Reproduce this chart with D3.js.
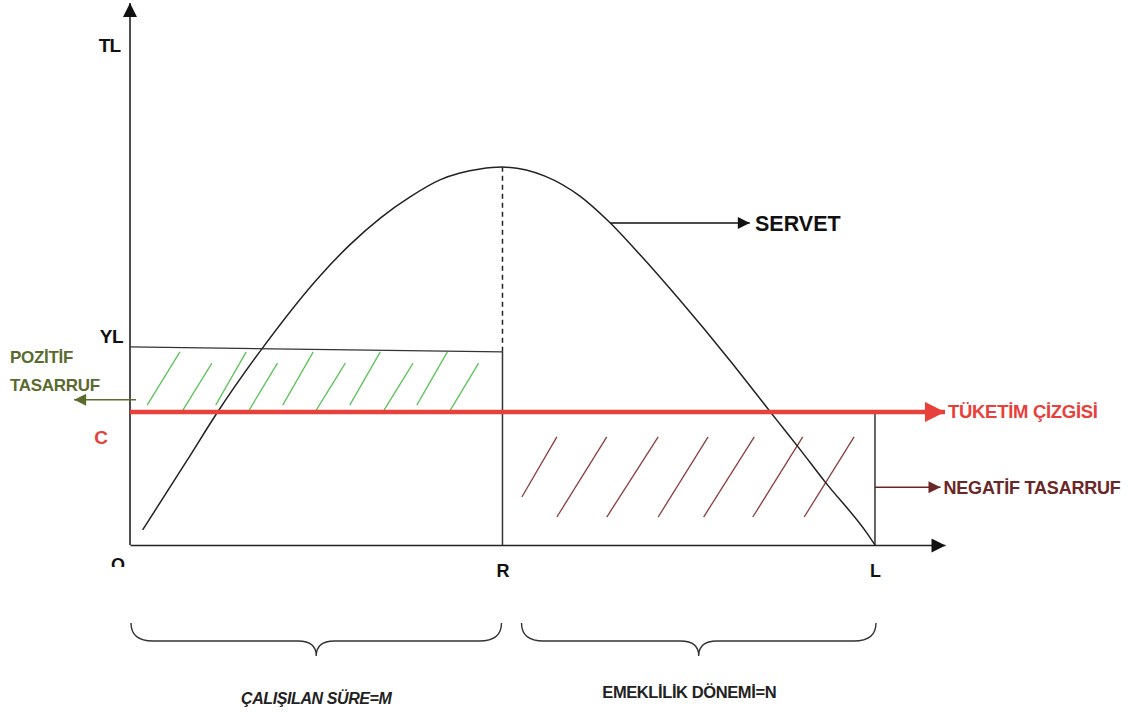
<!DOCTYPE html>
<html>
<head>
<meta charset="utf-8">
<script src="https://cdn.jsdelivr.net/npm/d3@7/dist/d3.min.js"></script>
<style>
  body{margin:0;background:#fff;}
  text{font-family:"Liberation Sans",Arial,sans-serif;font-weight:bold;}
</style>
</head>
<body>
<div id="chart"></div>
<script>
// servet egrisi (x: 0=O, 50=R, 100=L ; y: 100 = tepe)
var servetX=[1.7,7.7,11.5,17.7,25.5,29.5,33.6,37.6,41.6,44.3,47.0,49.9,55.7,60.4,64.2,68.5,73.8,80.5,86.8,89.7,93.3,98.9,100];
var servetY=[4.0,22.5,34.4,51.9,71.2,79.4,86.5,92.1,96.6,98.4,99.5,100,97.6,92.3,85.7,76.7,64.8,48.9,33.1,25.9,16.7,3.2,0];

var xR=50, xL=100;
var yC=35.2;           // tuketim cizgisi
var ylStart=52.4, ylEnd=51.1;   // gelir cizgisi YL
var servetArrowY=85.2;
var pozitifArrowY=38.4;
var negatifArrowY=15.3;

// tarama cizgileri [x0,y0,x1,y1]
var greenHatch=[[2.3,37.0,6.7,51.1],[7.1,35.7,11.0,48.1],[11.5,37.0,15.6,51.1],[16.0,35.7,19.8,48.1],
  [20.5,37.0,24.6,51.1],[25.0,35.7,28.9,48.1],[29.5,37.0,33.6,51.1],[34.1,35.7,38.0,48.1],
  [38.5,37.0,42.6,51.1],[43.0,35.7,46.8,48.1]];
var brownHatch=[[52.6,12.7,57.3,28.6],[57.3,7.4,64.0,28.6],[64.0,7.4,70.9,28.6],[70.9,7.4,77.6,28.6],
  [77.0,7.4,83.8,28.6],[83.6,7.4,90.3,28.6],[90.5,7.4,97.2,28.6]];

var xLabels=["R","L"];

var width=1134, height=712;
var svg=d3.select("#chart").append("svg")
  .attr("width",width).attr("height",height);

var x=d3.scaleLinear().domain([0,109.4]).range([130,945]);
var y=d3.scaleLinear().domain([0,143.4]).range([545,3]);

var defs=svg.append("defs");
function marker(id,color,w,h){
  defs.append("marker").attr("id",id)
    .attr("viewBox","0 0 10 10").attr("refX",10).attr("refY",5)
    .attr("markerUnits","userSpaceOnUse")
    .attr("markerWidth",w).attr("markerHeight",h).attr("orient","auto")
    .append("path").attr("d","M0,0L10,5L0,10Z").attr("fill",color);
}
marker("axarrow","#111",16,14);
marker("redarrow","#e8403a",24,20);
marker("blkarrow","#111",15,12);
marker("brnarrow","#6b2626",15,12);
marker("olvarrow","#5b6b2e",15,12);
defs.append("clipPath").attr("id","oclip").append("rect")
  .attr("x",0).attr("y",0).attr("width",300).attr("height",567);

// tarama
svg.selectAll(".gh").data(greenHatch).enter().append("line")
  .attr("x1",function(d){return x(d[0]);}).attr("y1",function(d){return y(d[1]);})
  .attr("x2",function(d){return x(d[2]);}).attr("y2",function(d){return y(d[3]);})
  .attr("stroke","#5cc35c").attr("stroke-width",1.3);
svg.selectAll(".bh").data(brownHatch).enter().append("line")
  .attr("x1",function(d){return x(d[0]);}).attr("y1",function(d){return y(d[1]);})
  .attr("x2",function(d){return x(d[2]);}).attr("y2",function(d){return y(d[3]);})
  .attr("stroke","#8a3d3d").attr("stroke-width",1.3);

// eksenler
var xAxis=d3.axisBottom(x).tickValues([xR,xL]).tickSize(0).tickPadding(19)
  .tickFormat(function(d,i){return xLabels[i];});
var gx=svg.append("g").attr("transform","translate(0,"+y(0)+")").call(xAxis);
gx.select(".domain").attr("stroke","#222").attr("stroke-width",1.6).attr("marker-end","url(#axarrow)");
gx.selectAll("text").attr("font-size",18).attr("fill","#111").attr("font-family","Liberation Sans, Arial").attr("font-weight","bold");

var yAxis=d3.axisLeft(y).tickValues([]).tickSizeOuter(0);
var gy=svg.append("g").attr("transform","translate("+x(0)+",0)").call(yAxis);
gy.select(".domain").attr("d","M0,"+y(0)+"V"+y(143.4)).attr("stroke","#222").attr("stroke-width",1.6)
  .attr("marker-end","url(#axarrow)");

// R ve L dikeyleri
svg.append("line").attr("x1",x(xR)).attr("x2",x(xR)).attr("y1",y(0)).attr("y2",y(ylEnd))
  .attr("stroke","#333").attr("stroke-width",1.5);
svg.append("line").attr("x1",x(xR)).attr("x2",x(xR)).attr("y1",y(ylEnd)).attr("y2",y(100))
  .attr("stroke","#222").attr("stroke-width",1.5).attr("stroke-dasharray","5,4");
svg.append("line").attr("x1",x(xL)).attr("x2",x(xL)).attr("y1",y(0)).attr("y2",y(yC))
  .attr("stroke","#333").attr("stroke-width",1.5);

// YL cizgisi
svg.append("line").attr("x1",x(0)).attr("x2",x(xR)).attr("y1",y(ylStart)).attr("y2",y(ylEnd))
  .attr("stroke","#333").attr("stroke-width",1.3);

// servet egrisi
var pts=servetX.map(function(d,i){return [d,servetY[i]];});
var line=d3.line().x(function(d){return x(d[0]);}).y(function(d){return y(d[1]);})
  .curve(d3.curveMonotoneX);
svg.append("path").datum(pts).attr("d",line)
  .attr("fill","none").attr("stroke","#222").attr("stroke-width",1.5);

// tuketim cizgisi
svg.append("line").attr("x1",x(0)).attr("x2",x(109.4)).attr("y1",y(yC)).attr("y2",y(yC))
  .attr("stroke","#e8403a").attr("stroke-width",4.5).attr("marker-end","url(#redarrow)");

// oklar
svg.append("line").attr("x1",x(64.5)).attr("x2",x(83.2)).attr("y1",y(servetArrowY)).attr("y2",y(servetArrowY))
  .attr("stroke","#111").attr("stroke-width",1.5).attr("marker-end","url(#blkarrow)");
svg.append("line").attr("x1",x(0.8)).attr("x2",x(-7.5)).attr("y1",y(pozitifArrowY)).attr("y2",y(pozitifArrowY))
  .attr("stroke","#5b6b2e").attr("stroke-width",1.5).attr("marker-end","url(#olvarrow)");
svg.append("line").attr("x1",x(xL)).attr("x2",x(108.8)).attr("y1",y(negatifArrowY)).attr("y2",y(negatifArrowY))
  .attr("stroke","#6b2626").attr("stroke-width",1.5).attr("marker-end","url(#brnarrow)");

// etiketler
function label(t,px,py,size,color,anchor,italic){
  return svg.append("text").attr("x",px).attr("y",py).attr("font-size",size)
    .attr("fill",color).attr("text-anchor",anchor||"start")
    .attr("font-style",italic?"italic":"normal").text(t);
}
label("TL",x(0)-10,y(132.3)+7,19,"#111","end").attr("letter-spacing",-1);
label("YL",x(0)-7,y(55.3)+7,19,"#111","end").attr("letter-spacing",-0.5);
label("C",x(0)-22,y(28.6)+7,19,"#e8403a","end");
label("O",x(0)-12,y(0)+26,18,"#111","middle").attr("clip-path","url(#oclip)");
label("SERVET",x(83.9),y(servetArrowY)+8,21.5,"#111");
label("TÜKETİM ÇİZGİSİ",x(109.8),y(yC)+6,18.5,"#e8403a").attr("letter-spacing",-0.3);
label("NEGATİF TASARRUF",x(109.2),y(negatifArrowY)+7,18,"#6b2626").attr("letter-spacing",-0.2);
label("POZİTİF",10,363,17,"#5b6b2e").attr("letter-spacing",-0.3);
label("TASARRUF",10,391,17,"#5b6b2e").attr("letter-spacing",-0.3);

// kume parantezleri
function brace(x0,x1,top){
  var mid=(x0+x1)/2, h=top+18, tip=top+33;
  return "M"+x0+","+top+"Q"+x0+","+h+" "+(x0+22)+","+h+
    "L"+(mid-18)+","+h+"Q"+mid+","+h+" "+mid+","+tip+
    "Q"+mid+","+h+" "+(mid+18)+","+h+
    "L"+(x1-22)+","+h+"Q"+x1+","+h+" "+x1+","+top;
}
svg.append("path").attr("d",brace(x(0)+1,x(xR)-1,623)).attr("fill","none").attr("stroke","#333").attr("stroke-width",1.4);
svg.append("path").attr("d",brace(x(xR)+19,x(xL)+1,623)).attr("fill","none").attr("stroke","#333").attr("stroke-width",1.4);
label("ÇALIŞILAN SÜRE=M",(x(0)+x(xR))/2,704,16,"#222","middle",true).attr("letter-spacing",-0.4);
label("EMEKLİLİK DÖNEMİ=N",(x(xR)+19+x(xL))/2-9,698,16.5,"#222","middle").attr("letter-spacing",-0.4);
</script>
</body>
</html>
